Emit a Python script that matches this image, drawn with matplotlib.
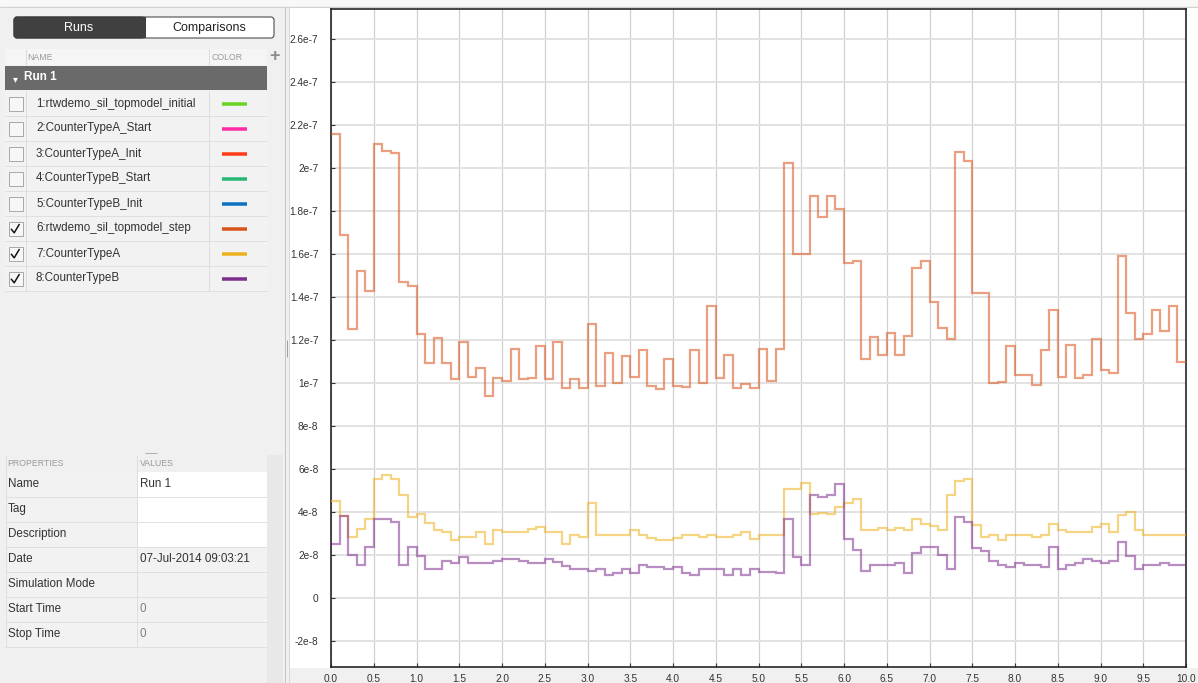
import matplotlib
matplotlib.use('Agg')
import matplotlib.pyplot as plt
import numpy as np
from matplotlib.patches import Rectangle, FancyBboxPatch

# ---------------- data (values in units of 1e-8 s) ----------------
time_edges = np.round(np.linspace(0.0, 10.0, 101), 1)

step_vals = [21.6, 16.9, 12.5, 15.2, 14.3, 21.1, 20.8, 20.7, 14.7, 14.5,
             12.3, 10.95, 12.1, 10.95, 10.2, 11.9, 10.3, 10.7, 9.4, 10.25,
             10.1, 11.6, 10.2, 10.25, 11.74, 10.2, 11.9, 9.75, 10.2, 9.75,
             12.76, 9.85, 11.4, 10.0, 11.27, 10.27, 11.52, 9.88, 9.7, 11.1,
             9.88, 9.83, 11.52, 10.0, 13.6, 10.25, 11.3, 9.75, 9.94, 9.78,
             11.6, 10.1, 11.6, 20.24, 16.0, 15.98, 18.7, 17.74, 18.7, 18.1,
             15.6, 15.68, 11.1, 12.14, 11.3, 12.34, 11.3, 12.2, 15.37, 15.68,
             13.75, 12.57, 12.06, 20.75, 20.34, 14.17, 14.17, 10.0, 10.07, 11.7,
             10.39, 10.39, 9.93, 11.55, 13.4, 10.3, 11.78, 10.25, 10.39, 12.03,
             10.62, 10.48, 15.9, 13.28, 12.03, 12.26, 13.4, 12.42, 13.6, 10.96]

counter_a = [4.51, 3.8, 2.82, 3.23, 3.69, 5.53, 5.72, 5.53, 4.81, 3.78,
             3.89, 3.47, 3.15, 3.06, 2.69, 2.82, 2.82, 3.06, 2.49, 3.15,
             3.06, 3.06, 3.06, 3.23, 3.32, 3.06, 3.06, 2.49, 2.92, 2.82,
             4.44, 2.92, 2.92, 2.92, 2.92, 3.15, 2.92, 2.78, 2.69, 2.69,
             2.78, 2.92, 2.92, 2.82, 2.92, 2.82, 2.82, 2.92, 3.06, 2.75,
             2.92, 2.92, 2.92, 5.07, 5.07, 5.34, 3.89, 3.96, 3.89, 4.25,
             4.44, 4.59, 3.15, 3.15, 3.26, 3.15, 3.26, 3.15, 3.67, 3.43,
             3.35, 3.15, 4.81, 5.45, 5.53, 3.4, 2.82, 2.92, 2.69, 2.92,
             2.92, 2.92, 2.82, 2.92, 3.43, 3.15, 3.06, 3.06, 3.06, 3.32,
             3.43, 3.06, 3.86, 4.0, 3.15, 2.92, 2.92, 2.92, 2.92, 2.92]

counter_b = [2.49, 3.8, 1.99, 1.53, 2.36, 3.69, 3.69, 3.52, 1.53, 2.36,
             1.94, 1.34, 1.34, 1.73, 1.62, 1.9, 1.62, 1.62, 1.62, 1.73,
             1.82, 1.82, 1.73, 1.62, 1.62, 1.82, 1.67, 1.48, 1.36, 1.36,
             1.25, 1.36, 1.08, 1.16, 1.36, 1.16, 1.53, 1.45, 1.45, 1.36,
             1.45, 1.16, 1.08, 1.33, 1.36, 1.36, 1.08, 1.36, 1.08, 1.36,
             1.19, 1.19, 1.16, 3.69, 1.9, 1.53, 4.81, 4.72, 4.81, 5.28,
             2.75, 2.22, 1.25, 1.53, 1.53, 1.53, 1.62, 1.16, 2.08, 2.36,
             2.36, 1.99, 1.36, 3.78, 3.52, 2.31, 2.19, 1.73, 1.53, 1.42,
             1.62, 1.53, 1.53, 1.42, 2.36, 1.36, 1.53, 1.62, 1.82, 1.73,
             1.62, 1.73, 2.59, 1.94, 1.36, 1.53, 1.53, 1.62, 1.53, 1.53]

scale = 1e-8

y_tick_vals = [-2e-8, 0, 2e-8, 4e-8, 6e-8, 8e-8, 1e-7, 1.2e-7, 1.4e-7, 1.6e-7,
               1.8e-7, 2e-7, 2.2e-7, 2.4e-7, 2.6e-7]
y_tick_labels = ['-2e-8', '0', '2e-8', '4e-8', '6e-8', '8e-8', '1e-7', '1.2e-7',
                 '1.4e-7', '1.6e-7', '1.8e-7', '2e-7', '2.2e-7', '2.4e-7', '2.6e-7']
x_tick_vals = [0.0, 0.5, 1.0, 1.5, 2.0, 2.5, 3.0, 3.5, 4.0, 4.5, 5.0,
               5.5, 6.0, 6.5, 7.0, 7.5, 8.0, 8.5, 9.0, 9.5, 10.0]
x_tick_labels = ['%.1f' % v for v in x_tick_vals]

signal_names = ["1:rtwdemo_sil_topmodel_initial", "2:CounterTypeA_Start",
                "3:CounterTypeA_Init", "4:CounterTypeB_Start", "5:CounterTypeB_Init",
                "6:rtwdemo_sil_topmodel_step", "7:CounterTypeA", "8:CounterTypeB"]
signal_colors = ['#6bd321', '#ff2aa6', '#ff3a16', '#27b774', '#0b72c4',
                 '#d95319', '#edb120', '#7e2f8e']
signal_checked = [False, False, False, False, False, True, True, True]

prop_names = ["Name", "Tag", "Description", "Date", "Simulation Mode", "Start Time", "Stop Time"]
prop_values = ["Run 1", "", "", "07-Jul-2014 09:03:21", "", "0", "0"]

# ---------------- figure ----------------
plt.rcParams['font.family'] = ['Liberation Sans', 'DejaVu Sans']
W, H = 1198, 683
fig = plt.figure(figsize=(W / 100, H / 100), dpi=100, facecolor='#f0f0f0')
ui = fig.add_axes([0, 0, 1, 1], zorder=0)
ui.set_xlim(0, W)
ui.set_ylim(H, 0)
ui.axis('off')
PX = 0.72  # one pixel in points


def rect(x, y, w, h, fc, ec='none', lw=0, z=1):
    ui.add_patch(Rectangle((x, y), w, h, facecolor=fc, edgecolor=ec, linewidth=lw, zorder=z))


def line(xs, ys, c, lw=1.0, z=2):
    ui.plot(xs, ys, color=c, lw=lw * PX, zorder=z, solid_capstyle='butt')


# top strip
rect(0, 0, W, 6, '#f8f8f8')
line([0, W], [6.5, 6.5], '#d2d2d2')

# plot panel background
rect(289, 7, 909, 661, '#ffffff')
line([284.5, 284.5], [7, H], '#c4c4c4')
line([288.5, 288.5], [7, H], '#d8d8d8')
line([286.5, 286.5], [340, 357], '#a0a0a0')

# ----- tabs -----
ui.add_patch(FancyBboxPatch((14, 17), 260, 21, boxstyle='round,pad=0,rounding_size=3',
                            facecolor='#ffffff', edgecolor='#3c3c3c', linewidth=1 * PX, zorder=2))
ui.add_patch(FancyBboxPatch((14, 17), 131, 21, boxstyle='round,pad=0,rounding_size=3',
                            facecolor='#404040', edgecolor='#3c3c3c', linewidth=1 * PX, zorder=3))
rect(140, 17, 6, 21, '#404040', z=3)
ui.text(79, 28, 'Runs', color='white', fontsize=9, ha='center', va='center', zorder=4)
ui.text(209, 28, 'Comparisons', color='#222222', fontsize=9, ha='center', va='center', zorder=4)

# ----- signal table -----
rect(5, 49, 262, 16, '#f5f5f5')
ui.text(27, 57, 'NAME', color='#9a9a9a', fontsize=6.3, ha='left', va='center')
ui.text(211, 57, 'COLOR', color='#9a9a9a', fontsize=6.3, ha='left', va='center')
line([25.5, 25.5], [49, 65], '#dddddd')
line([208.5, 208.5], [49, 65], '#dddddd')
ui.text(275, 57, '+', color='#8a8a8a', fontsize=13, fontweight='bold', ha='center', va='center')

rect(5, 66, 262, 24, '#6a6a6a')
ui.text(15, 79, '\u25be', color='white', fontsize=7, ha='center', va='center', family='DejaVu Sans')
ui.text(24, 77.5, 'Run 1', color='white', fontsize=8.5, fontweight='bold', ha='left', va='center')

row_top = 91
for i, (nm, col, chk) in enumerate(zip(signal_names, signal_colors, signal_checked)):
    top = row_top + 25 * i
    c = top + 12.5
    rect(5, top, 262, 25, '#f2f2f2')
    line([5, 267], [top + 24.5, top + 24.5], '#e0e0e0')
    rect(8.5, c - 7, 14, 14, '#f7f7f7', ec='#a9a9a9', lw=1 * PX, z=3)
    if chk:
        line([11, 14.2, 19.5], [c + 0.3, c + 4.3, c - 4.5], '#111111', lw=1.5, z=4)
    ui.text(36, c, nm, color='#333333', fontsize=8.4, ha='left', va='center', zorder=4)
    line([222, 247], [c + 0.5, c + 0.5], col, lw=3.5, z=4)
line([25.5, 25.5], [91, 291], '#dddddd', z=3)
line([208.5, 208.5], [91, 291], '#dddddd', z=3)

# ----- properties table -----
line([145, 157], [452.5, 452.5], '#b0b0b0')
rect(267, 455, 16, H - 455, '#e8e8e8')
rect(5, 455, 262, 17, '#f0f0f0')
ui.text(7, 463, 'PROPERTIES', color='#9a9a9a', fontsize=6.3, ha='left', va='center')
ui.text(140, 463, 'VALUES', color='#9a9a9a', fontsize=6.3, ha='left', va='center')
p_top = 472
for i, (pn, pv) in enumerate(zip(prop_names, prop_values)):
    top = p_top + 25 * i
    c = top + 12
    rect(5, top, 262, 25, '#f2f2f2')
    if i < 3:
        rect(137, top, 130, 25, '#ffffff')
    line([5, 267], [top + 24.5, top + 24.5], '#e0e0e0', z=3)
    ui.text(8, c, pn, color='#333333', fontsize=8.4, ha='left', va='center', zorder=4)
    vcol = '#808080' if pv == '0' else '#333333'
    ui.text(140, c, pv, color=vcol, fontsize=8.4, ha='left', va='center', zorder=4)
line([136.5, 136.5], [455, p_top + 25 * 7], '#dddddd', z=3)
line([5.5, 5.5], [455, p_top + 25 * 7], '#dddddd', z=3)

# ---------------- plot ----------------
ax_l, ax_r, ax_t, ax_b = 331, 1186, 9, 667
ax = fig.add_axes([ax_l / W, (H - ax_b) / H, (ax_r - ax_l) / W, (ax_b - ax_t) / H], zorder=1)
ax.set_facecolor('white')
ax.stairs(np.array(step_vals) * scale, time_edges, baseline=None,
          color='#d95319', alpha=0.55, lw=1.6, zorder=3)
ax.stairs(np.array(counter_a) * scale, time_edges, baseline=None,
          color='#edb120', alpha=0.55, lw=1.6, zorder=3)
ax.stairs(np.array(counter_b) * scale, time_edges, baseline=None,
          color='#7e2f8e', alpha=0.55, lw=1.6, zorder=4)

ax.set_xlim(0, 10)
ax.set_ylim(-3.21e-8, 2.74e-7)
ax.set_yticks(y_tick_vals)
ax.set_yticklabels(y_tick_labels)
ax.set_xticks(x_tick_vals)
ax.set_xticklabels(x_tick_labels)
ax.tick_params(axis='both', direction='in', length=3, width=0.8, colors='#333333',
               labelsize=7.3, labelcolor='#333333')
ax.tick_params(axis='y', pad=9)
ax.tick_params(axis='x', pad=5)
ax.grid(True, axis='y', color='#e2e2e2', lw=1.4, zorder=0)
ax.grid(True, axis='x', color='#d0d0d0', lw=0.9, zorder=0)
ax.set_axisbelow(True)
for s in ax.spines.values():
    s.set_color('#262626')
    s.set_linewidth(1.2)

fig.savefig('out.png', dpi=100, facecolor=fig.get_facecolor())
